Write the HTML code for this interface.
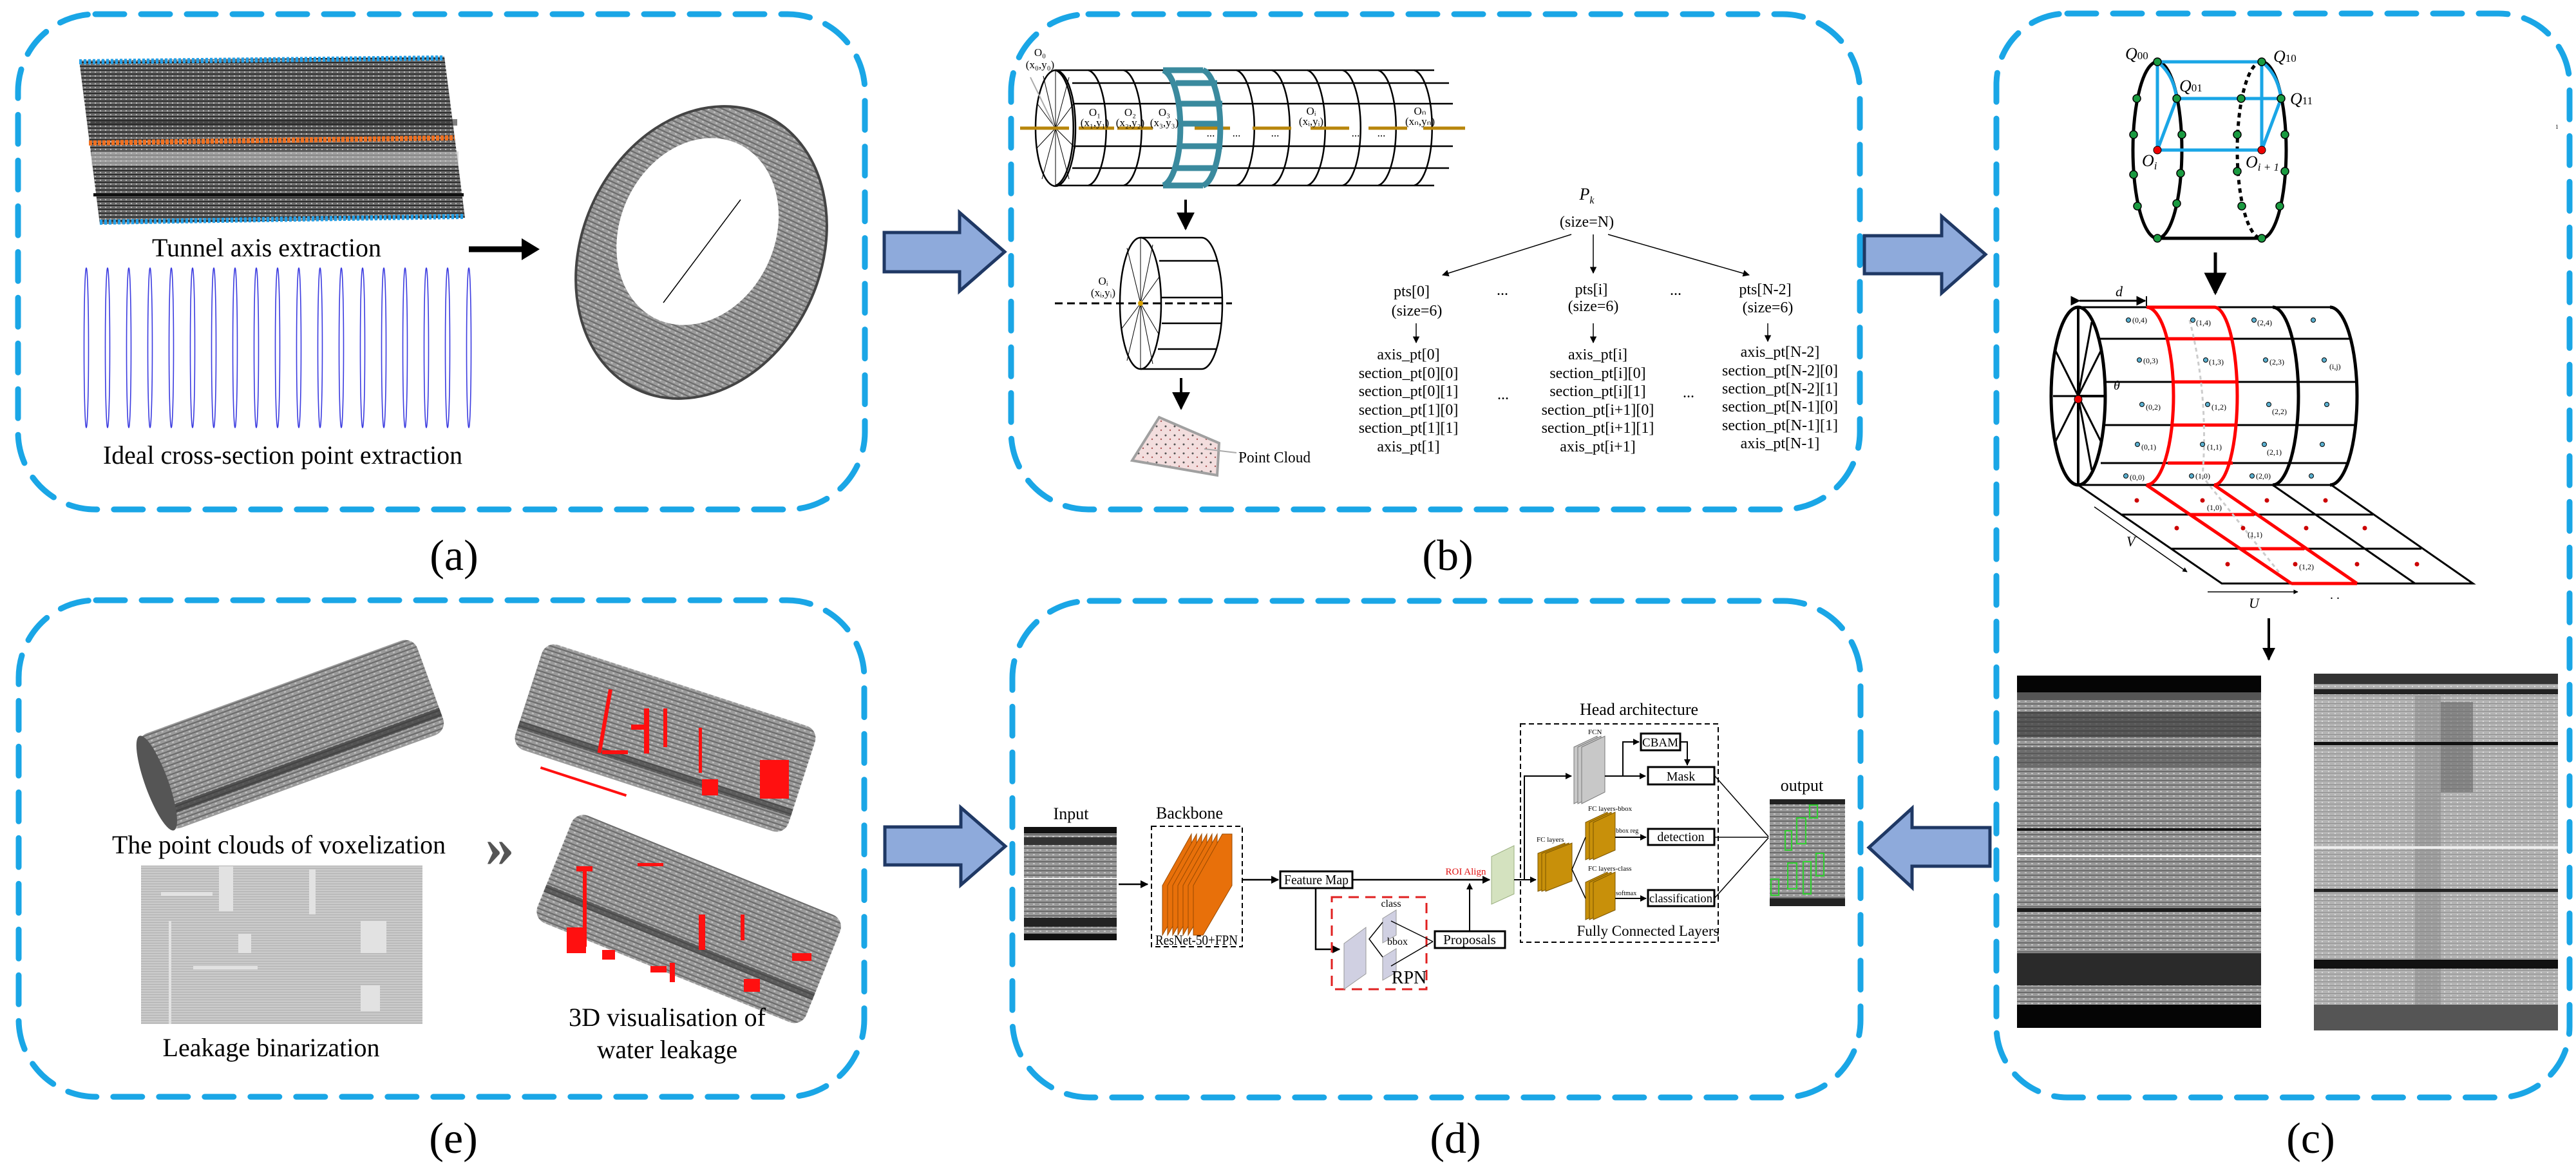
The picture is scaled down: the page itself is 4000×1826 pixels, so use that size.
<!DOCTYPE html>
<html><head><meta charset="utf-8"><style>
html,body{margin:0;padding:0;background:#fff;}
svg{display:block;}
text{font-family:"Liberation Serif",serif;fill:#000;}
</style></head><body>
<svg width="4000" height="1826" viewBox="0 0 4000 1826" xmlns="http://www.w3.org/2000/svg">
<defs>
<pattern id="hl" width="8" height="6" patternUnits="userSpaceOnUse"><rect width="8" height="6" fill="#6e6e6e"/><rect y="0" width="8" height="2" fill="#2c2c2c"/><rect x="3" y="3" width="2" height="2" fill="#b8b8b8"/></pattern>
<pattern id="hl2" width="10" height="7" patternUnits="userSpaceOnUse"><rect width="10" height="7" fill="#9a9a9a"/><rect width="10" height="2" fill="#6a6a6a"/><rect x="4" y="3" width="3" height="2" fill="#c4c4c4"/></pattern>
<pattern id="hl3" width="10" height="6" patternUnits="userSpaceOnUse"><rect width="10" height="6" fill="#b4b4b4"/><rect width="10" height="1" fill="#8c8c8c"/><rect x="5" y="3" width="2" height="2" fill="#d8d8d8"/></pattern>
<pattern id="bin" width="4" height="4" patternUnits="userSpaceOnUse"><rect width="4" height="4" fill="#c9c9c9"/><rect width="4" height="1" fill="#b0b0b0"/></pattern>
<pattern id="dots" width="14" height="14" patternUnits="userSpaceOnUse"><rect width="14" height="14" fill="#f3dede"/><circle cx="4" cy="4" r="1.5" fill="#555"/><circle cx="11" cy="10" r="1.2" fill="#a55"/></pattern>
<marker id="ah" viewBox="0 0 10 10" refX="9" refY="5" markerWidth="7" markerHeight="7" orient="auto"><path d="M0,0 L10,5 L0,10 z" fill="#000"/></marker>
<marker id="ahs" viewBox="0 0 10 10" refX="9" refY="5" markerWidth="5" markerHeight="5" orient="auto"><path d="M0,0 L10,5 L0,10 z" fill="#000"/></marker>
</defs>

<g fill="none" stroke="#1aa6e6" stroke-width="9" stroke-dasharray="45 26" stroke-linecap="round">
<rect x="28" y="22" width="1315" height="769" rx="120"/>
<rect x="1570" y="22" width="1318" height="769" rx="120"/>
<rect x="3100" y="21" width="890" height="1683" rx="110"/>
<rect x="29" y="932" width="1313" height="771" rx="120"/>
<rect x="1572" y="933" width="1317" height="771" rx="120"/>
</g>

<g font-size="68" text-anchor="middle">
<text x="705" y="885">(a)</text>
<text x="2248" y="885">(b)</text>
<text x="3588" y="1790">(c)</text>
<text x="2260" y="1790">(d)</text>
<text x="704" y="1790">(e)</text>
</g>

<g fill="#8eaadb" stroke="#1f3864" stroke-width="5" stroke-linejoin="miter">
<path d="M1373,361 L1490,361 L1490,330 L1560,391 L1490,452 L1490,422 L1373,422 Z"/>
<path d="M2895,366 L3015,366 L3015,336 L3083,395 L3015,455 L3015,425 L2895,425 Z"/>
<path d="M1374,1284 L1492,1284 L1492,1254 L1561,1314 L1492,1374 L1492,1343 L1374,1343 Z"/>
<path d="M3090,1285 L2969,1285 L2969,1255 L2902,1316 L2969,1378 L2969,1345 L3090,1345 Z"/>
</g>

<!-- Panel (a) -->
<polygon points="123,94 690,88 722,338 155,348" fill="url(#hl)"/>
<rect x="140" y="185" width="570" height="10" fill="#2a2a2a" opacity=".6"/>
<rect x="142" y="235" width="570" height="22" fill="#c4c4c4" opacity=".6"/>
<rect x="145" y="300" width="575" height="5" fill="#111"/>
<path d="M123,96 L690,90" stroke="#22a0e8" stroke-width="8" stroke-dasharray="4 3"/>
<path d="M155,345 L722,336" stroke="#22a0e8" stroke-width="8" stroke-dasharray="4 3"/>
<path d="M138,222 L706,214" stroke="#f07020" stroke-width="8" stroke-dasharray="5 2"/>
<text x="414" y="398" font-size="40" text-anchor="middle" textLength="356" lengthAdjust="spacingAndGlyphs">Tunnel axis extraction</text>
<g fill="none" stroke="#3a3ae0" stroke-width="1.6">
<ellipse cx="134" cy="540" rx="3.5" ry="124"/><ellipse cx="167" cy="540" rx="3.5" ry="124"/><ellipse cx="200" cy="540" rx="3.5" ry="124"/><ellipse cx="233" cy="540" rx="3.5" ry="124"/><ellipse cx="266" cy="540" rx="3.5" ry="124"/><ellipse cx="299" cy="540" rx="3.5" ry="124"/><ellipse cx="332" cy="540" rx="3.5" ry="124"/><ellipse cx="365" cy="540" rx="3.5" ry="124"/><ellipse cx="398" cy="540" rx="3.5" ry="124"/><ellipse cx="431" cy="540" rx="3.5" ry="124"/><ellipse cx="464" cy="540" rx="3.5" ry="124"/><ellipse cx="497" cy="540" rx="3.5" ry="124"/><ellipse cx="530" cy="540" rx="3.5" ry="124"/><ellipse cx="563" cy="540" rx="3.5" ry="124"/><ellipse cx="596" cy="540" rx="3.5" ry="124"/><ellipse cx="629" cy="540" rx="3.5" ry="124"/><ellipse cx="662" cy="540" rx="3.5" ry="124"/><ellipse cx="695" cy="540" rx="3.5" ry="124"/><ellipse cx="728" cy="540" rx="3.5" ry="124"/>
</g>
<text x="439" y="720" font-size="40" text-anchor="middle" textLength="558" lengthAdjust="spacingAndGlyphs">Ideal cross-section point extraction</text>
<line x1="728" y1="387" x2="812" y2="387" stroke="#000" stroke-width="9"/>
<polygon points="810,370 838,387 810,404" fill="#000"/>
<g transform="rotate(25 1089 392)">
<ellipse cx="1089" cy="392" rx="185" ry="235" fill="url(#hl2)" stroke="#444" stroke-width="4"/>
<ellipse cx="1070" cy="365" rx="120" ry="150" fill="#fff"/>
</g>
<line x1="1030" y1="470" x2="1150" y2="310" stroke="#000" stroke-width="1.5"/>

<!-- Panel (b) -->
<g fill="none" stroke="#000" stroke-width="2.5">
<line x1="1639" y1="109" x2="2227" y2="109"/><line x1="1639" y1="288" x2="2227" y2="288"/>
<line x1="1665" y1="129" x2="2250" y2="129"/><line x1="1668" y1="161" x2="2256" y2="161"/>
<line x1="1668" y1="227" x2="2256" y2="227"/><line x1="1665" y1="261" x2="2250" y2="261"/>
<ellipse cx="1639" cy="199" rx="31" ry="90"/>
<path d="M1639,109 A31,90 0 0 1 1639,288"/>
<path d="M1690,109 A31,90 0 0 1 1690,288"/><path d="M1745,109 A31,90 0 0 1 1745,288"/>
<path d="M1920,109 A31,90 0 0 1 1920,288"/><path d="M1975,109 A31,90 0 0 1 1975,288"/>
<path d="M2030,109 A31,90 0 0 1 2030,288"/><path d="M2085,109 A31,90 0 0 1 2085,288"/>
<path d="M2140,109 A31,90 0 0 1 2140,288"/><path d="M2196,109 A31,90 0 0 1 2196,288"/>
</g>
<g stroke="#000" stroke-width="1">
<line x1="1639" y1="199" x2="1639" y2="110"/><line x1="1639" y1="199" x2="1660" y2="120"/><line x1="1639" y1="199" x2="1668" y2="160"/><line x1="1639" y1="199" x2="1670" y2="230"/><line x1="1639" y1="199" x2="1660" y2="278"/><line x1="1639" y1="199" x2="1639" y2="288"/><line x1="1639" y1="199" x2="1618" y2="278"/><line x1="1639" y1="199" x2="1610" y2="230"/><line x1="1639" y1="199" x2="1610" y2="160"/><line x1="1639" y1="199" x2="1620" y2="118"/>
</g>
<line x1="1600" y1="120" x2="1636" y2="194" stroke="#aaa" stroke-width="2"/>
<g stroke="#b8860b" stroke-width="5">
<line x1="1584" y1="199" x2="1660" y2="199"/><line x1="1675" y1="199" x2="1730" y2="199"/><line x1="1735" y1="199" x2="1790" y2="199"/><line x1="1855" y1="199" x2="1910" y2="199"/><line x1="1945" y1="199" x2="2005" y2="199"/><line x1="2035" y1="199" x2="2095" y2="199"/><line x1="2125" y1="199" x2="2185" y2="199"/><line x1="2210" y1="199" x2="2275" y2="199"/>
</g>
<g fill="none" stroke="#3a8a9e" stroke-width="9">
<path d="M1806,109 A30,90 0 0 1 1806,288"/><path d="M1868,109 A30,90 0 0 1 1868,288"/>
<line x1="1806" y1="109" x2="1868" y2="109"/><line x1="1806" y1="288" x2="1868" y2="288"/>
<line x1="1826" y1="129" x2="1890" y2="129"/><line x1="1834" y1="161" x2="1898" y2="161"/><line x1="1836" y1="192" x2="1899" y2="192"/><line x1="1834" y1="227" x2="1898" y2="227"/><line x1="1826" y1="261" x2="1890" y2="261"/>
</g>
<g font-size="17" text-anchor="middle">
<text x="1615" y="87">O₀</text><text x="1615" y="106">(x₀,y₀)</text>
<text x="1700" y="180">O₁</text><text x="1700" y="196">(x₁,y₁)</text>
<text x="1755" y="180">O₂</text><text x="1755" y="196">(x₂,y₂)</text>
<text x="1808" y="180">O₃</text><text x="1808" y="196">(x₃,y₃)</text>
<text x="2036" y="178">Oᵢ</text><text x="2036" y="194">(xᵢ,yᵢ)</text>
<text x="2205" y="178">Oₙ</text><text x="2205" y="194">(xₙ,yₙ)</text>
<text x="1880" y="212">...</text><text x="1920" y="212">...</text><text x="1980" y="212">...</text><text x="2105" y="212">...</text><text x="2145" y="212">...</text>
</g>
<line x1="1841" y1="310" x2="1841" y2="355" stroke="#000" stroke-width="4" marker-end="url(#ah)"/>
<g fill="none" stroke="#000" stroke-width="2.5">
<line x1="1771" y1="369" x2="1866" y2="369"/><line x1="1771" y1="573" x2="1866" y2="573"/>
<ellipse cx="1771" cy="471" rx="32" ry="102"/>
<path d="M1866,369 A32,102 0 0 1 1866,573"/>
<line x1="1800" y1="405" x2="1890" y2="405"/><line x1="1804" y1="462" x2="1897" y2="462"/><line x1="1804" y1="502" x2="1897" y2="502"/><line x1="1798" y1="542" x2="1888" y2="542"/>
</g>
<g stroke="#000" stroke-width="1">
<line x1="1771" y1="471" x2="1771" y2="370"/><line x1="1771" y1="471" x2="1790" y2="380"/><line x1="1771" y1="471" x2="1800" y2="430"/><line x1="1771" y1="471" x2="1800" y2="520"/><line x1="1771" y1="471" x2="1790" y2="565"/><line x1="1771" y1="471" x2="1771" y2="573"/><line x1="1771" y1="471" x2="1750" y2="560"/><line x1="1771" y1="471" x2="1742" y2="510"/><line x1="1771" y1="471" x2="1750" y2="385"/>
</g>
<line x1="1638" y1="471" x2="1913" y2="471" stroke="#000" stroke-width="3" stroke-dasharray="12 7"/>
<circle cx="1771" cy="471" r="4" fill="#d8a000"/>
<g font-size="17" text-anchor="middle"><text x="1713" y="442">Oᵢ</text><text x="1713" y="460">(xᵢ,yᵢ)</text></g>
<line x1="1834" y1="587" x2="1834" y2="634" stroke="#000" stroke-width="4" marker-end="url(#ah)"/>
<polygon points="1758,715 1800,648 1893,688 1890,738" fill="url(#dots)" stroke="#a0a0a0" stroke-width="4"/>
<line x1="1870" y1="697" x2="1920" y2="703" stroke="#aaa" stroke-width="2"/>
<text x="1923" y="718" font-size="24" textLength="112" lengthAdjust="spacingAndGlyphs">Point Cloud</text>
<text x="2464" y="310" font-size="26" font-style="italic" text-anchor="middle">P<tspan font-size="16" dy="6">k</tspan></text>
<text x="2464" y="352" font-size="24" text-anchor="middle">(size=N)</text>
<g stroke="#000" stroke-width="1.5" marker-end="url(#ah)">
<line x1="2440" y1="364" x2="2240" y2="427"/><line x1="2474" y1="364" x2="2474" y2="424"/><line x1="2497" y1="364" x2="2716" y2="427"/>
<line x1="2199" y1="502" x2="2199" y2="532"/><line x1="2474" y1="502" x2="2474" y2="532"/><line x1="2745" y1="502" x2="2745" y2="530"/>
</g>
<g font-size="24" text-anchor="middle">
<text x="2192" y="460">pts[0]</text><text x="2200" y="490">(size=6)</text>
<text x="2471" y="457">pts[i]</text><text x="2474" y="483">(size=6)</text>
<text x="2741" y="457">pts[N-2]</text><text x="2745" y="485">(size=6)</text>
<text x="2333" y="458">...</text><text x="2602" y="458">...</text>
<text x="2334" y="620">...</text><text x="2622" y="617">...</text>
<text x="2187" y="558">axis_pt[0]</text><text x="2187" y="587">section_pt[0][0]</text><text x="2187" y="615">section_pt[0][1]</text><text x="2187" y="644">section_pt[1][0]</text><text x="2187" y="672">section_pt[1][1]</text><text x="2187" y="701">axis_pt[1]</text>
<text x="2481" y="558">axis_pt[i]</text><text x="2481" y="587">section_pt[i][0]</text><text x="2481" y="615">section_pt[i][1]</text><text x="2481" y="644">section_pt[i+1][0]</text><text x="2481" y="672">section_pt[i+1][1]</text><text x="2481" y="701">axis_pt[i+1]</text>
<text x="2764" y="554">axis_pt[N-2]</text><text x="2764" y="583">section_pt[N-2][0]</text><text x="2764" y="611">section_pt[N-2][1]</text><text x="2764" y="639">section_pt[N-1][0]</text><text x="2764" y="668">section_pt[N-1][1]</text><text x="2764" y="696">axis_pt[N-1]</text>
</g>

<!-- Panel (c) -->
<g fill="none" stroke-width="5">
<ellipse cx="3350" cy="233" rx="38" ry="137" stroke="#000"/>
<path d="M3512,96 A38,137 0 0 1 3512,370" stroke="#000"/>
<path d="M3512,96 A38,137 0 0 0 3512,370" stroke="#000" stroke-dasharray="7 6"/>
<line x1="3350" y1="370" x2="3512" y2="370" stroke="#000"/>
<g stroke="#1aa6e6">
<line x1="3350" y1="96" x2="3512" y2="96"/><line x1="3350" y1="96" x2="3350" y2="233"/><line x1="3350" y1="233" x2="3512" y2="233"/><line x1="3380" y1="153" x2="3350" y2="233"/><line x1="3380" y1="153" x2="3542" y2="153"/><line x1="3512" y1="96" x2="3512" y2="233"/><line x1="3542" y1="153" x2="3512" y2="233"/>
<path d="M3350,96 Q3375,115 3380,153"/><path d="M3512,96 Q3537,115 3542,153"/>
</g>
</g>
<g fill="#1a9a40" stroke="#000" stroke-width="1.5">
<circle cx="3350" cy="96" r="6"/><circle cx="3512" cy="96" r="6"/><circle cx="3380" cy="153" r="6"/><circle cx="3542" cy="153" r="6"/>
<circle cx="3318" cy="153" r="6"/><circle cx="3313" cy="209" r="6"/><circle cx="3313" cy="271" r="6"/><circle cx="3319" cy="320" r="6"/><circle cx="3350" cy="370" r="6"/>
<circle cx="3388" cy="209" r="6"/><circle cx="3386" cy="269" r="6"/><circle cx="3380" cy="316" r="6"/>
<circle cx="3480" cy="153" r="6"/><circle cx="3474" cy="209" r="6"/><circle cx="3474" cy="266" r="6"/><circle cx="3481" cy="320" r="6"/><circle cx="3512" cy="370" r="6"/>
<circle cx="3548" cy="209" r="6"/><circle cx="3548" cy="266" r="6"/><circle cx="3540" cy="320" r="6"/>
</g>
<circle cx="3350" cy="233" r="6" fill="#e00" stroke="#000"/><circle cx="3512" cy="233" r="6" fill="#e00" stroke="#000"/>
<g font-size="26" font-style="italic">
<text x="3300" y="92">Q<tspan font-size="17" font-style="normal">00</tspan></text>
<text x="3530" y="96">Q<tspan font-size="17" font-style="normal">10</tspan></text>
<text x="3384" y="142">Q<tspan font-size="17" font-style="normal">01</tspan></text>
<text x="3556" y="162">Q<tspan font-size="17" font-style="normal">11</tspan></text>
<text x="3326" y="258">O<tspan font-size="17" dy="5">i</tspan></text>
<text x="3487" y="260">O<tspan font-size="17" dy="5">i + 1</tspan></text>
</g>
<text x="3968" y="200" font-size="9">1</text>
<line x1="3440" y1="392" x2="3440" y2="455" stroke="#000" stroke-width="5" marker-end="url(#ah)"/>
<polygon points="3227,753 3620,753 3840,906 3450,906" fill="#fff" stroke="#000" stroke-width="3"/>
<g stroke="#000" stroke-width="3" fill="none">
<line x1="3333" y1="753" x2="3558" y2="906"/><line x1="3438" y1="753" x2="3660" y2="906"/><line x1="3529" y1="753" x2="3750" y2="906"/>
<line x1="3293" y1="799" x2="3685" y2="799"/><line x1="3372" y1="852" x2="3760" y2="852"/>
<line x1="3227" y1="477" x2="3618" y2="477"/>
<line x1="3260" y1="526" x2="3648" y2="526"/><line x1="3268" y1="593" x2="3660" y2="593"/><line x1="3268" y1="660" x2="3660" y2="660"/><line x1="3262" y1="719" x2="3648" y2="719"/>
<line x1="3227" y1="753" x2="3618" y2="753"/>
<ellipse cx="3227" cy="615" rx="42" ry="138" stroke-width="5"/>
<path d="M3618,477 A42,138 0 0 1 3618,753" stroke-width="5"/>
<path d="M3529,477 A40,138 0 0 1 3529,753" stroke-width="5"/>
<line x1="3227" y1="477" x2="3227" y2="753" stroke-width="4"/>
<line x1="3227" y1="615" x2="3269" y2="615" stroke-width="4"/>
<line x1="3227" y1="615" x2="3262" y2="545"/><line x1="3227" y1="615" x2="3262" y2="685"/><line x1="3227" y1="615" x2="3248" y2="500"/><line x1="3227" y1="615" x2="3248" y2="730"/><line x1="3227" y1="615" x2="3192" y2="545"/><line x1="3227" y1="615" x2="3192" y2="685"/><line x1="3227" y1="615" x2="3188" y2="615"/>
</g>
<g stroke="#ff0000" stroke-width="5" fill="none">
<path d="M3333,477 A42,138 0 0 1 3333,753"/><path d="M3438,477 A36,138 0 0 1 3438,753"/>
<line x1="3333" y1="477" x2="3438" y2="477"/><line x1="3366" y1="526" x2="3467" y2="526"/><line x1="3374" y1="593" x2="3474" y2="593"/><line x1="3374" y1="660" x2="3474" y2="660"/><line x1="3366" y1="719" x2="3467" y2="719"/>
<line x1="3333" y1="753" x2="3558" y2="906"/><line x1="3438" y1="753" x2="3660" y2="906"/><line x1="3400" y1="799" x2="3500" y2="799"/><line x1="3478" y1="852" x2="3578" y2="852"/><line x1="3558" y1="906" x2="3660" y2="906"/>
</g>
<path d="M3400,497 Q3430,615 3420,740 L3540,890" stroke="#ccc" stroke-width="3" stroke-dasharray="6 5" fill="none"/>
<circle cx="3227" cy="620" r="6" fill="#e00" stroke="#000"/>
<g fill="#5ab0d0" stroke="#000" stroke-width="1"><circle cx="3305" cy="497" r="3.5"/><circle cx="3405" cy="497" r="3.5"/><circle cx="3500" cy="497" r="3.5"/><circle cx="3592" cy="497" r="3.5"/><circle cx="3322" cy="559" r="3.5"/><circle cx="3425" cy="559" r="3.5"/><circle cx="3518" cy="559" r="3.5"/><circle cx="3609" cy="559" r="3.5"/><circle cx="3326" cy="628" r="3.5"/><circle cx="3428" cy="628" r="3.5"/><circle cx="3523" cy="628" r="3.5"/><circle cx="3613" cy="628" r="3.5"/><circle cx="3319" cy="690" r="3.5"/><circle cx="3420" cy="690" r="3.5"/><circle cx="3516" cy="690" r="3.5"/><circle cx="3606" cy="690" r="3.5"/><circle cx="3301" cy="739" r="3.5"/><circle cx="3403" cy="739" r="3.5"/><circle cx="3497" cy="739" r="3.5"/><circle cx="3589" cy="739" r="3.5"/></g>
<g fill="#c00"><circle cx="3318" cy="777" r="3.5"/><circle cx="3420" cy="777" r="3.5"/><circle cx="3520" cy="777" r="3.5"/><circle cx="3611" cy="777" r="3.5"/><circle cx="3380" cy="820" r="3.5"/><circle cx="3483" cy="820" r="3.5"/><circle cx="3581" cy="820" r="3.5"/><circle cx="3672" cy="820" r="3.5"/><circle cx="3459" cy="876" r="3.5"/><circle cx="3564" cy="876" r="3.5"/><circle cx="3660" cy="876" r="3.5"/><circle cx="3753" cy="876" r="3.5"/></g>
<g font-size="12">
<text x="3311" y="501">(0,4)</text><text x="3410" y="505">(1,4)</text><text x="3505" y="505">(2,4)</text>
<text x="3328" y="564">(0,3)</text><text x="3430" y="566">(1,3)</text><text x="3524" y="566">(2,3)</text><text x="3617" y="573">(i,j)</text>
<text x="3332" y="636">(0,2)</text><text x="3434" y="636">(1,2)</text><text x="3528" y="643">(2,2)</text>
<text x="3325" y="698">(0,1)</text><text x="3427" y="698">(1,1)</text><text x="3520" y="706">(2,1)</text>
<text x="3307" y="745">(0,0)</text><text x="3409" y="743">(1,0)</text><text x="3503" y="743">(2,0)</text>
<text x="3427" y="792">(1,0)</text><text x="3490" y="834">(1,1)</text><text x="3570" y="884">(1,2)</text>
</g>
<text x="3282" y="605" font-size="20" font-style="italic">θ</text>
<line x1="3229" y1="467" x2="3331" y2="467" stroke="#000" stroke-width="3" marker-start="url(#ahs)" marker-end="url(#ahs)"/>
<line x1="3333" y1="460" x2="3333" y2="475" stroke="#000" stroke-width="2"/>
<text x="3285" y="460" font-size="22" font-style="italic">d</text>
<line x1="3252" y1="787" x2="3396" y2="888" stroke="#000" stroke-width="1.5" marker-end="url(#ahs)"/>
<text x="3302" y="848" font-size="22" font-style="italic">V</text>
<line x1="3428" y1="919" x2="3568" y2="919" stroke="#000" stroke-width="1.5" marker-end="url(#ahs)"/>
<text x="3492" y="944" font-size="22" font-style="italic">U</text>
<text x="3618" y="930" font-size="20">. .</text>
<line x1="3523" y1="960" x2="3523" y2="1024" stroke="#000" stroke-width="4" marker-end="url(#ahs)"/>
<rect x="3132" y="1049" width="379" height="547" fill="url(#hl2)"/>
<rect x="3132" y="1049" width="379" height="26" fill="#050505"/>
<rect x="3132" y="1075" width="379" height="12" fill="#555"/>
<rect x="3132" y="1105" width="379" height="40" fill="#3a3a3a" opacity=".7"/>
<rect x="3132" y="1160" width="379" height="30" fill="#505050" opacity=".6"/>
<rect x="3132" y="1286" width="379" height="4" fill="#111"/>
<rect x="3132" y="1328" width="379" height="3" fill="#fff"/>
<rect x="3132" y="1410" width="379" height="6" fill="#1a1a1a"/>
<rect x="3132" y="1480" width="379" height="50" fill="#2a2a2a"/>
<rect x="3132" y="1560" width="379" height="36" fill="#050505"/>
<rect x="3593" y="1046" width="379" height="554" fill="url(#hl3)"/>
<rect x="3593" y="1046" width="379" height="16" fill="#333"/>
<rect x="3593" y="1070" width="379" height="8" fill="#222"/>
<rect x="3750" y="1080" width="40" height="520" fill="#888" opacity=".5"/>
<rect x="3790" y="1090" width="50" height="140" fill="#666" opacity=".6"/>
<rect x="3593" y="1152" width="379" height="5" fill="#111"/>
<rect x="3593" y="1314" width="379" height="4" fill="#eee"/>
<rect x="3593" y="1380" width="379" height="5" fill="#222"/>
<rect x="3593" y="1490" width="379" height="14" fill="#111"/>
<rect x="3593" y="1560" width="379" height="40" fill="#555"/>

<!-- Panel (d) -->
<text x="1663" y="1272" font-size="26" text-anchor="middle">Input</text>
<rect x="1590" y="1284" width="144" height="176" fill="url(#hl2)"/>
<rect x="1590" y="1284" width="144" height="10" fill="#111"/>
<rect x="1590" y="1300" width="144" height="12" fill="#333"/>
<rect x="1590" y="1363" width="144" height="2" fill="#eee"/>
<rect x="1590" y="1425" width="144" height="14" fill="#222"/>
<rect x="1590" y="1450" width="144" height="10" fill="#111"/>
<line x1="1737" y1="1373" x2="1782" y2="1373" stroke="#000" stroke-width="2.5" marker-end="url(#ahs)"/>
<text x="1847" y="1271" font-size="26" text-anchor="middle">Backbone</text>
<rect x="1788" y="1283" width="141" height="187" fill="none" stroke="#000" stroke-width="2" stroke-dasharray="8 5"/>
<g fill="#e8700a" stroke="#9a4a00" stroke-width="1">
<polygon points="1805,1375 1850,1295 1850,1375 1805,1452"/>
<polygon points="1813,1375 1858,1295 1858,1375 1813,1452"/>
<polygon points="1821,1375 1866,1295 1866,1375 1821,1452"/>
<polygon points="1829,1375 1874,1295 1874,1375 1829,1452"/>
<polygon points="1837,1375 1882,1295 1882,1375 1837,1452"/>
<polygon points="1845,1375 1890,1295 1890,1375 1845,1452"/>
<polygon points="1853,1375 1898,1295 1913,1295 1913,1375 1868,1452 1853,1452"/>
</g>
<text x="1858" y="1467" font-size="22" text-anchor="middle" textLength="128" lengthAdjust="spacingAndGlyphs">ResNet-50+FPN</text>
<line x1="1929" y1="1366" x2="1985" y2="1366" stroke="#000" stroke-width="2.5" marker-end="url(#ahs)"/>
<rect x="1988" y="1353" width="112" height="26" fill="#fff" stroke="#000" stroke-width="3"/>
<text x="2044" y="1373" font-size="21" text-anchor="middle" textLength="100" lengthAdjust="spacingAndGlyphs">Feature Map</text>
<line x1="2100" y1="1366" x2="2313" y2="1366" stroke="#000" stroke-width="2.5" marker-end="url(#ahs)"/>
<text x="2276" y="1358" font-size="15" text-anchor="middle" style="fill:#e01010">ROI Align</text>
<polygon points="2316,1330 2351,1313 2351,1388 2316,1404" fill="#d4e2bf" stroke="#9bb080" stroke-width="1"/>
<polyline points="2043,1379 2043,1474 2080,1474" fill="none" stroke="#000" stroke-width="2.5" marker-end="url(#ahs)"/>
<rect x="2068" y="1393" width="147" height="143" fill="none" stroke="#e02020" stroke-width="3" stroke-dasharray="16 10"/>
<polygon points="2087,1465 2121,1440 2121,1512 2087,1536" fill="#d0d0e2" stroke="#999" stroke-width="1"/>
<polygon points="2147,1426 2168,1413 2168,1452 2147,1464" fill="#d0d0e2" stroke="#999" stroke-width="1"/>
<polygon points="2147,1486 2168,1473 2168,1510 2147,1522" fill="#d0d0e2" stroke="#999" stroke-width="1"/>
<g stroke="#000" stroke-width="1.5" fill="none"><polyline points="2147,1432 2126,1458 2147,1486"/><line x1="2160" y1="1430" x2="2225" y2="1462"/><line x1="2160" y1="1500" x2="2225" y2="1462"/></g>
<text x="2160" y="1408" font-size="16" text-anchor="middle">class</text>
<text x="2170" y="1467" font-size="16" text-anchor="middle">bbox</text>
<text x="2188" y="1527" font-size="28" text-anchor="middle">RPN</text>
<rect x="2228" y="1446" width="109" height="26" fill="#fff" stroke="#000" stroke-width="3"/>
<text x="2282" y="1466" font-size="21" text-anchor="middle">Proposals</text>
<line x1="2282" y1="1446" x2="2282" y2="1372" stroke="#000" stroke-width="2" marker-end="url(#ahs)"/>
<line x1="2351" y1="1366" x2="2385" y2="1366" stroke="#000" stroke-width="2" marker-end="url(#ahs)"/>
<text x="2545" y="1110" font-size="26" text-anchor="middle">Head architecture</text>
<rect x="2361" y="1124" width="307" height="339" fill="none" stroke="#000" stroke-width="2" stroke-dasharray="8 5"/>
<polyline points="2367,1366 2367,1205 2440,1205" fill="none" stroke="#000" stroke-width="2" marker-end="url(#ahs)"/>
<g fill="#c8c8c8" stroke="#777" stroke-width="1">
<polygon points="2444,1160 2480,1143 2480,1230 2444,1248"/><polygon points="2450,1160 2486,1143 2486,1230 2450,1248"/><polygon points="2456,1160 2492,1143 2492,1230 2456,1248"/>
</g>
<text x="2466" y="1140" font-size="11">FCN</text>
<polyline points="2492,1205 2555,1205" fill="none" stroke="#000" stroke-width="2" marker-end="url(#ahs)"/>
<polyline points="2520,1205 2520,1152 2545,1152" fill="none" stroke="#000" stroke-width="2" marker-end="url(#ahs)"/>
<rect x="2548" y="1139" width="61" height="26" fill="#fff" stroke="#000" stroke-width="3"/>
<text x="2578" y="1159" font-size="19" text-anchor="middle">CBAM</text>
<polyline points="2609,1152 2620,1152 2620,1188" fill="none" stroke="#000" stroke-width="2" marker-end="url(#ahs)"/>
<rect x="2559" y="1191" width="103" height="27" fill="#fff" stroke="#000" stroke-width="3"/>
<text x="2610" y="1212" font-size="20" text-anchor="middle">Mask</text>
<g fill="#c8900a" stroke="#7a5500" stroke-width="1">
<polygon points="2388,1325 2430,1309 2430,1368 2388,1384"/><polygon points="2394,1325 2436,1309 2436,1368 2394,1384"/><polygon points="2400,1325 2441,1309 2441,1368 2400,1384"/>
<polygon points="2462,1277 2496,1261 2496,1320 2462,1335"/><polygon points="2468,1277 2502,1261 2502,1320 2468,1335"/><polygon points="2474,1277 2508,1261 2508,1320 2474,1335"/>
<polygon points="2462,1370 2496,1354 2496,1413 2462,1428"/><polygon points="2468,1370 2502,1354 2502,1413 2468,1428"/><polygon points="2474,1370 2508,1354 2508,1413 2474,1428"/>
</g>
<text x="2386" y="1307" font-size="11">FC layers</text>
<text x="2466" y="1259" font-size="11">FC layers-bbox</text>
<text x="2466" y="1352" font-size="11">FC layers-class</text>
<text x="2509" y="1293" font-size="10">bbox reg</text>
<text x="2509" y="1390" font-size="10">softmax</text>
<g stroke="#000" stroke-width="1.5" fill="none"><polyline points="2462,1300 2441,1350 2462,1395"/></g>
<line x1="2508" y1="1300" x2="2556" y2="1300" stroke="#000" stroke-width="2" marker-end="url(#ahs)"/>
<line x1="2508" y1="1395" x2="2556" y2="1395" stroke="#000" stroke-width="2" marker-end="url(#ahs)"/>
<rect x="2559" y="1287" width="103" height="25" fill="#fff" stroke="#000" stroke-width="3"/>
<text x="2610" y="1306" font-size="20" text-anchor="middle">detection</text>
<rect x="2559" y="1382" width="103" height="25" fill="#fff" stroke="#000" stroke-width="3"/>
<text x="2610" y="1401" font-size="19" text-anchor="middle" textLength="98" lengthAdjust="spacingAndGlyphs">classification</text>
<text x="2559" y="1453" font-size="23" text-anchor="middle">Fully Connected Layers</text>
<g stroke="#000" stroke-width="1.5" fill="none"><line x1="2662" y1="1204" x2="2746" y2="1299"/><line x1="2662" y1="1300" x2="2746" y2="1300"/><line x1="2662" y1="1395" x2="2746" y2="1301"/></g>
<text x="2798" y="1228" font-size="26" text-anchor="middle">output</text>
<rect x="2748" y="1241" width="117" height="166" fill="url(#hl2)"/>
<rect x="2748" y="1241" width="117" height="8" fill="#222"/>
<rect x="2748" y="1395" width="117" height="12" fill="#222"/>
<g stroke="#30d030" stroke-width="2" fill="none"><rect x="2810" y="1250" width="12" height="20"/><rect x="2790" y="1270" width="14" height="40"/><rect x="2772" y="1290" width="10" height="30"/><rect x="2776" y="1340" width="14" height="40"/><rect x="2800" y="1338" width="12" height="50"/><rect x="2750" y="1365" width="12" height="25"/><rect x="2820" y="1325" width="12" height="35"/></g>

<!-- Panel (e) -->
<g transform="rotate(-20 452 1140)">
<rect x="222" y="1062" width="460" height="156" rx="20" fill="url(#hl2)"/>
<rect x="222" y="1180" width="460" height="14" fill="#333" opacity=".7"/>
<ellipse cx="230" cy="1140" rx="18" ry="78" fill="#555"/>
</g>
<text x="433" y="1325" font-size="40" text-anchor="middle" textLength="518" lengthAdjust="spacingAndGlyphs">The point clouds of voxelization</text>
<rect x="219" y="1344" width="437" height="246" fill="url(#bin)"/>
<g fill="#e2e2e2"><rect x="340" y="1345" width="22" height="70"/><rect x="250" y="1385" width="80" height="6"/><rect x="480" y="1350" width="10" height="70"/><rect x="560" y="1430" width="40" height="50"/><rect x="300" y="1500" width="100" height="5"/><rect x="262" y="1430" width="4" height="160"/><rect x="560" y="1530" width="30" height="40"/><rect x="370" y="1450" width="20" height="30"/></g>
<text x="421" y="1640" font-size="40" text-anchor="middle" textLength="337" lengthAdjust="spacingAndGlyphs">Leakage binarization</text>
<text x="776" y="1345" font-size="90" font-weight="bold" text-anchor="middle" style="fill:#555">»</text>
<g transform="rotate(18 1033 1146)">
<rect x="810" y="1060" width="446" height="172" rx="20" fill="url(#hl2)"/>
<rect x="810" y="1190" width="446" height="12" fill="#333" opacity=".6"/>
</g>
<g fill="#ff1010"><rect x="945" y="1070" width="6" height="100" transform="rotate(10 945 1070)"/><rect x="935" y="1165" width="40" height="6"/><rect x="1000" y="1100" width="8" height="70"/><rect x="1030" y="1100" width="6" height="60"/><rect x="1085" y="1130" width="5" height="70"/><rect x="1180" y="1180" width="45" height="60"/><rect x="1090" y="1210" width="25" height="25"/><rect x="840" y="1190" width="140" height="4" transform="rotate(18 840 1190)"/><rect x="980" y="1125" width="25" height="8"/></g>
<g transform="rotate(22 1070 1426)">
<rect x="845" y="1337" width="450" height="180" rx="20" fill="url(#hl2)"/>
<rect x="845" y="1460" width="450" height="12" fill="#333" opacity=".6"/>
</g>
<g fill="#ff1010"><rect x="895" y="1345" width="25" height="8"/><rect x="905" y="1350" width="6" height="120"/><rect x="880" y="1440" width="30" height="40"/><rect x="990" y="1340" width="40" height="5"/><rect x="1085" y="1420" width="10" height="55"/><rect x="1040" y="1495" width="8" height="30"/><rect x="1150" y="1420" width="6" height="40"/><rect x="1230" y="1480" width="30" height="12"/><rect x="1010" y="1500" width="25" height="10"/><rect x="1155" y="1520" width="25" height="20"/><rect x="935" y="1475" width="20" height="15"/></g>
<text x="1036" y="1593" font-size="40" text-anchor="middle" textLength="306" lengthAdjust="spacingAndGlyphs">3D visualisation of</text>
<text x="1036" y="1643" font-size="40" text-anchor="middle" textLength="218" lengthAdjust="spacingAndGlyphs">water leakage</text>
</svg>
</body></html>
